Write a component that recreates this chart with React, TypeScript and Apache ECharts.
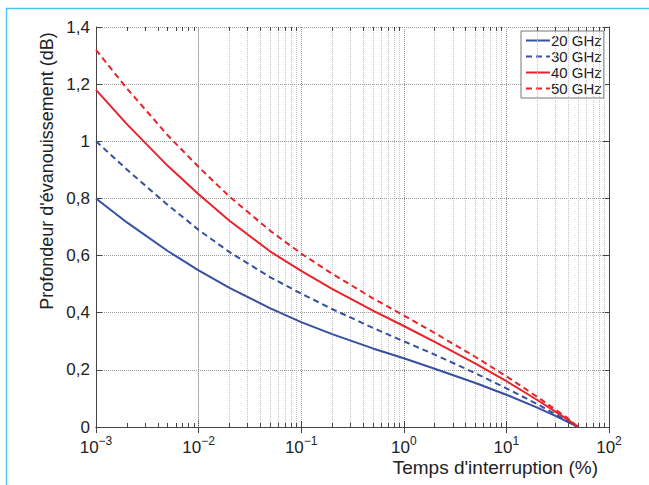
import React, { useEffect, useRef } from "react";
import * as echarts from "echarts";

const xValues = [0.001, 0.002, 0.005, 0.01, 0.02, 0.05, 0.1, 0.2, 0.5, 1, 2, 5, 10, 20, 30, 40, 50];
const ghz20 = [0.8, 0.716, 0.616, 0.5485, 0.487, 0.415, 0.367, 0.325, 0.275, 0.2405, 0.204, 0.154, 0.113, 0.068, 0.039, 0.017, 0];
const ghz30 = [1.0, 0.901, 0.777, 0.69, 0.612, 0.524, 0.467, 0.413, 0.347, 0.3, 0.2535, 0.188, 0.1355, 0.08, 0.045, 0.019, 0];
const ghz40 = [1.18, 1.06, 0.914, 0.815, 0.722, 0.614, 0.5465, 0.4835, 0.4075, 0.3535, 0.298, 0.222, 0.1605, 0.0945, 0.054, 0.025, 0];
const ghz50 = [1.32, 1.185, 1.021, 0.91, 0.8065, 0.6865, 0.607, 0.5365, 0.4505, 0.3905, 0.329, 0.245, 0.1775, 0.1055, 0.061, 0.0296, 0];
const seriesNames = ["20 GHz", "30 GHz", "40 GHz", "50 GHz"];
const minorX = [
  0.002, 0.003, 0.004, 0.005, 0.006, 0.007, 0.008, 0.009,
  0.02, 0.03, 0.04, 0.05, 0.06, 0.07, 0.08, 0.09,
  0.2, 0.3, 0.4, 0.5, 0.6, 0.7, 0.8, 0.9,
  2, 3, 4, 5, 6, 7, 8, 9,
  20, 30, 40, 50, 60, 70, 80, 90,
];
const xLabel = "Temps d'interruption (%)";
const yLabel = "Profondeur d'évanouissement (dB)";

const BLUE = "#3550a2";
const RED = "#e8232a";
const FONT = "Liberation Sans, Arial, sans-serif";

export default function App() {
  const ref = useRef<HTMLDivElement>(null);
  useEffect(() => {
    const chart = echarts.init(ref.current!, null, { renderer: "svg" });
    const pairs = (ys: number[]) => xValues.map((x, i) => [x, ys[i]]);
    const lineSeries = (name: string, ys: number[], color: string, dashed: boolean) => ({
      name,
      type: "line",
      data: pairs(ys),
      showSymbol: false,
      symbol: "none",
      smooth: false,
      lineStyle: { color, width: 2, type: dashed ? [6, 4] : "solid", join: "round" },
      itemStyle: { color },
      z: 5,
    });
    const tickLen = 0.014;
    chart.setOption({
      animation: false,
      textStyle: { fontFamily: FONT },
      grid: { left: 96, top: 27, right: 40, bottom: 58, containLabel: false },
      legend: {
        data: seriesNames,
        orient: "vertical",
        left: 521,
        top: 31,
        itemWidth: 24,
        itemHeight: 12,
        itemGap: 1,
        padding: [2, 2, 2, 4],
        backgroundColor: "#fff",
        borderColor: "#777",
        borderWidth: 1,
        itemStyle: { opacity: 0 },
        textStyle: { fontSize: 15, lineHeight: 13, color: "#222", fontFamily: FONT, padding: [0, 0, 0, -4] },
      },
      xAxis: [
        {
          type: "log",
          logBase: 10,
          min: 0.001,
          max: 100,
          axisLine: { show: true, lineStyle: { color: "#444", width: 1 } },
          axisTick: { show: true, inside: true, length: 6, lineStyle: { color: "#444" } },
          splitLine: { show: true, lineStyle: { type: "dotted", color: "#999", width: 1 } },
          axisLabel: {
            margin: 8,
            color: "#222",
            fontSize: 17,
            fontFamily: FONT,
            formatter: (v: number) => {
              const e = Math.round(Math.log10(v));
              return "10{sup|" + (e < 0 ? "−" + -e : String(e)) + "}";
            },
            rich: {
              sup: { fontSize: 12, fontFamily: FONT, color: "#222", verticalAlign: "top", padding: [0, 0, 12, 0] },
            },
          },
        },
        {
          type: "log",
          logBase: 10,
          min: 0.001,
          max: 100,
          position: "top",
          axisLine: { show: true, lineStyle: { color: "#444", width: 1 } },
          axisTick: { show: true, inside: true, length: 6, lineStyle: { color: "#444" } },
          axisLabel: { show: false },
          splitLine: { show: false },
        },
      ],
      yAxis: [
        {
          type: "value",
          min: 0,
          max: 1.4,
          interval: 0.2,
          axisLine: { show: true, lineStyle: { color: "#444", width: 1 } },
          axisTick: { show: true, inside: true, length: 6, lineStyle: { color: "#444" } },
          splitLine: { show: true, lineStyle: { type: "dotted", color: "#999", width: 1 } },
          axisLabel: {
            color: "#222",
            fontSize: 17,
            fontFamily: FONT,
            margin: 6,
            formatter: (v: number) => String(Math.round(v * 10) / 10).replace(".", ","),
          },
        },
        {
          type: "value",
          min: 0,
          max: 1.4,
          interval: 0.2,
          position: "right",
          axisLine: { show: true, lineStyle: { color: "#444", width: 1 } },
          axisTick: { show: true, inside: true, length: 6, lineStyle: { color: "#444" } },
          axisLabel: { show: false },
          splitLine: { show: false },
        },
      ],
      series: [
        {
          name: "minor",
          type: "line",
          data: [],
          silent: true,
          markLine: {
            silent: true,
            symbol: ["none", "none"],
            label: { show: false },
            lineStyle: { type: "dotted", color: "#c4c4c4", width: 1 },
            data: minorX.map((v) => ({ xAxis: v })),
          },
        },
        {
          name: "minorTicks",
          type: "line",
          data: [],
          silent: true,
          markLine: {
            silent: true,
            symbol: ["none", "none"],
            label: { show: false },
            lineStyle: { type: "solid", color: "#444", width: 1 },
            data: [
              ...minorX.map((v) => [{ coord: [v, 0] }, { coord: [v, tickLen] }]),
              ...minorX.map((v) => [{ coord: [v, 1.4] }, { coord: [v, 1.4 - tickLen] }]),
            ],
          },
        },
        lineSeries(seriesNames[0], ghz20, BLUE, false),
        lineSeries(seriesNames[1], ghz30, BLUE, true),
        lineSeries(seriesNames[2], ghz40, RED, false),
        lineSeries(seriesNames[3], ghz50, RED, true),
      ],
      graphic: [
        {
          type: "rect",
          silent: true,
          shape: { x: 6.5, y: 8.5, width: 800, height: 700 },
          style: { fill: "none", stroke: "#4cc6ee", lineWidth: 1.5 },
        },
        {
          type: "text",
          silent: true,
          x: 598,
          y: 467,
          style: { text: xLabel, fontSize: 19, fontFamily: FONT, fill: "#222", align: "right", verticalAlign: "middle" },
        },
        {
          type: "text",
          silent: true,
          x: 47,
          y: 171,
          rotation: Math.PI / 2,
          style: { text: yLabel, fontSize: 18, fontFamily: FONT, fill: "#222", align: "center", verticalAlign: "middle" },
        },
      ],
    });
    return () => chart.dispose();
  }, []);
  return <div ref={ref} style={{ position: "absolute", left: 0, top: 0, width: 649, height: 485, background: "#fff" }} />;
}
